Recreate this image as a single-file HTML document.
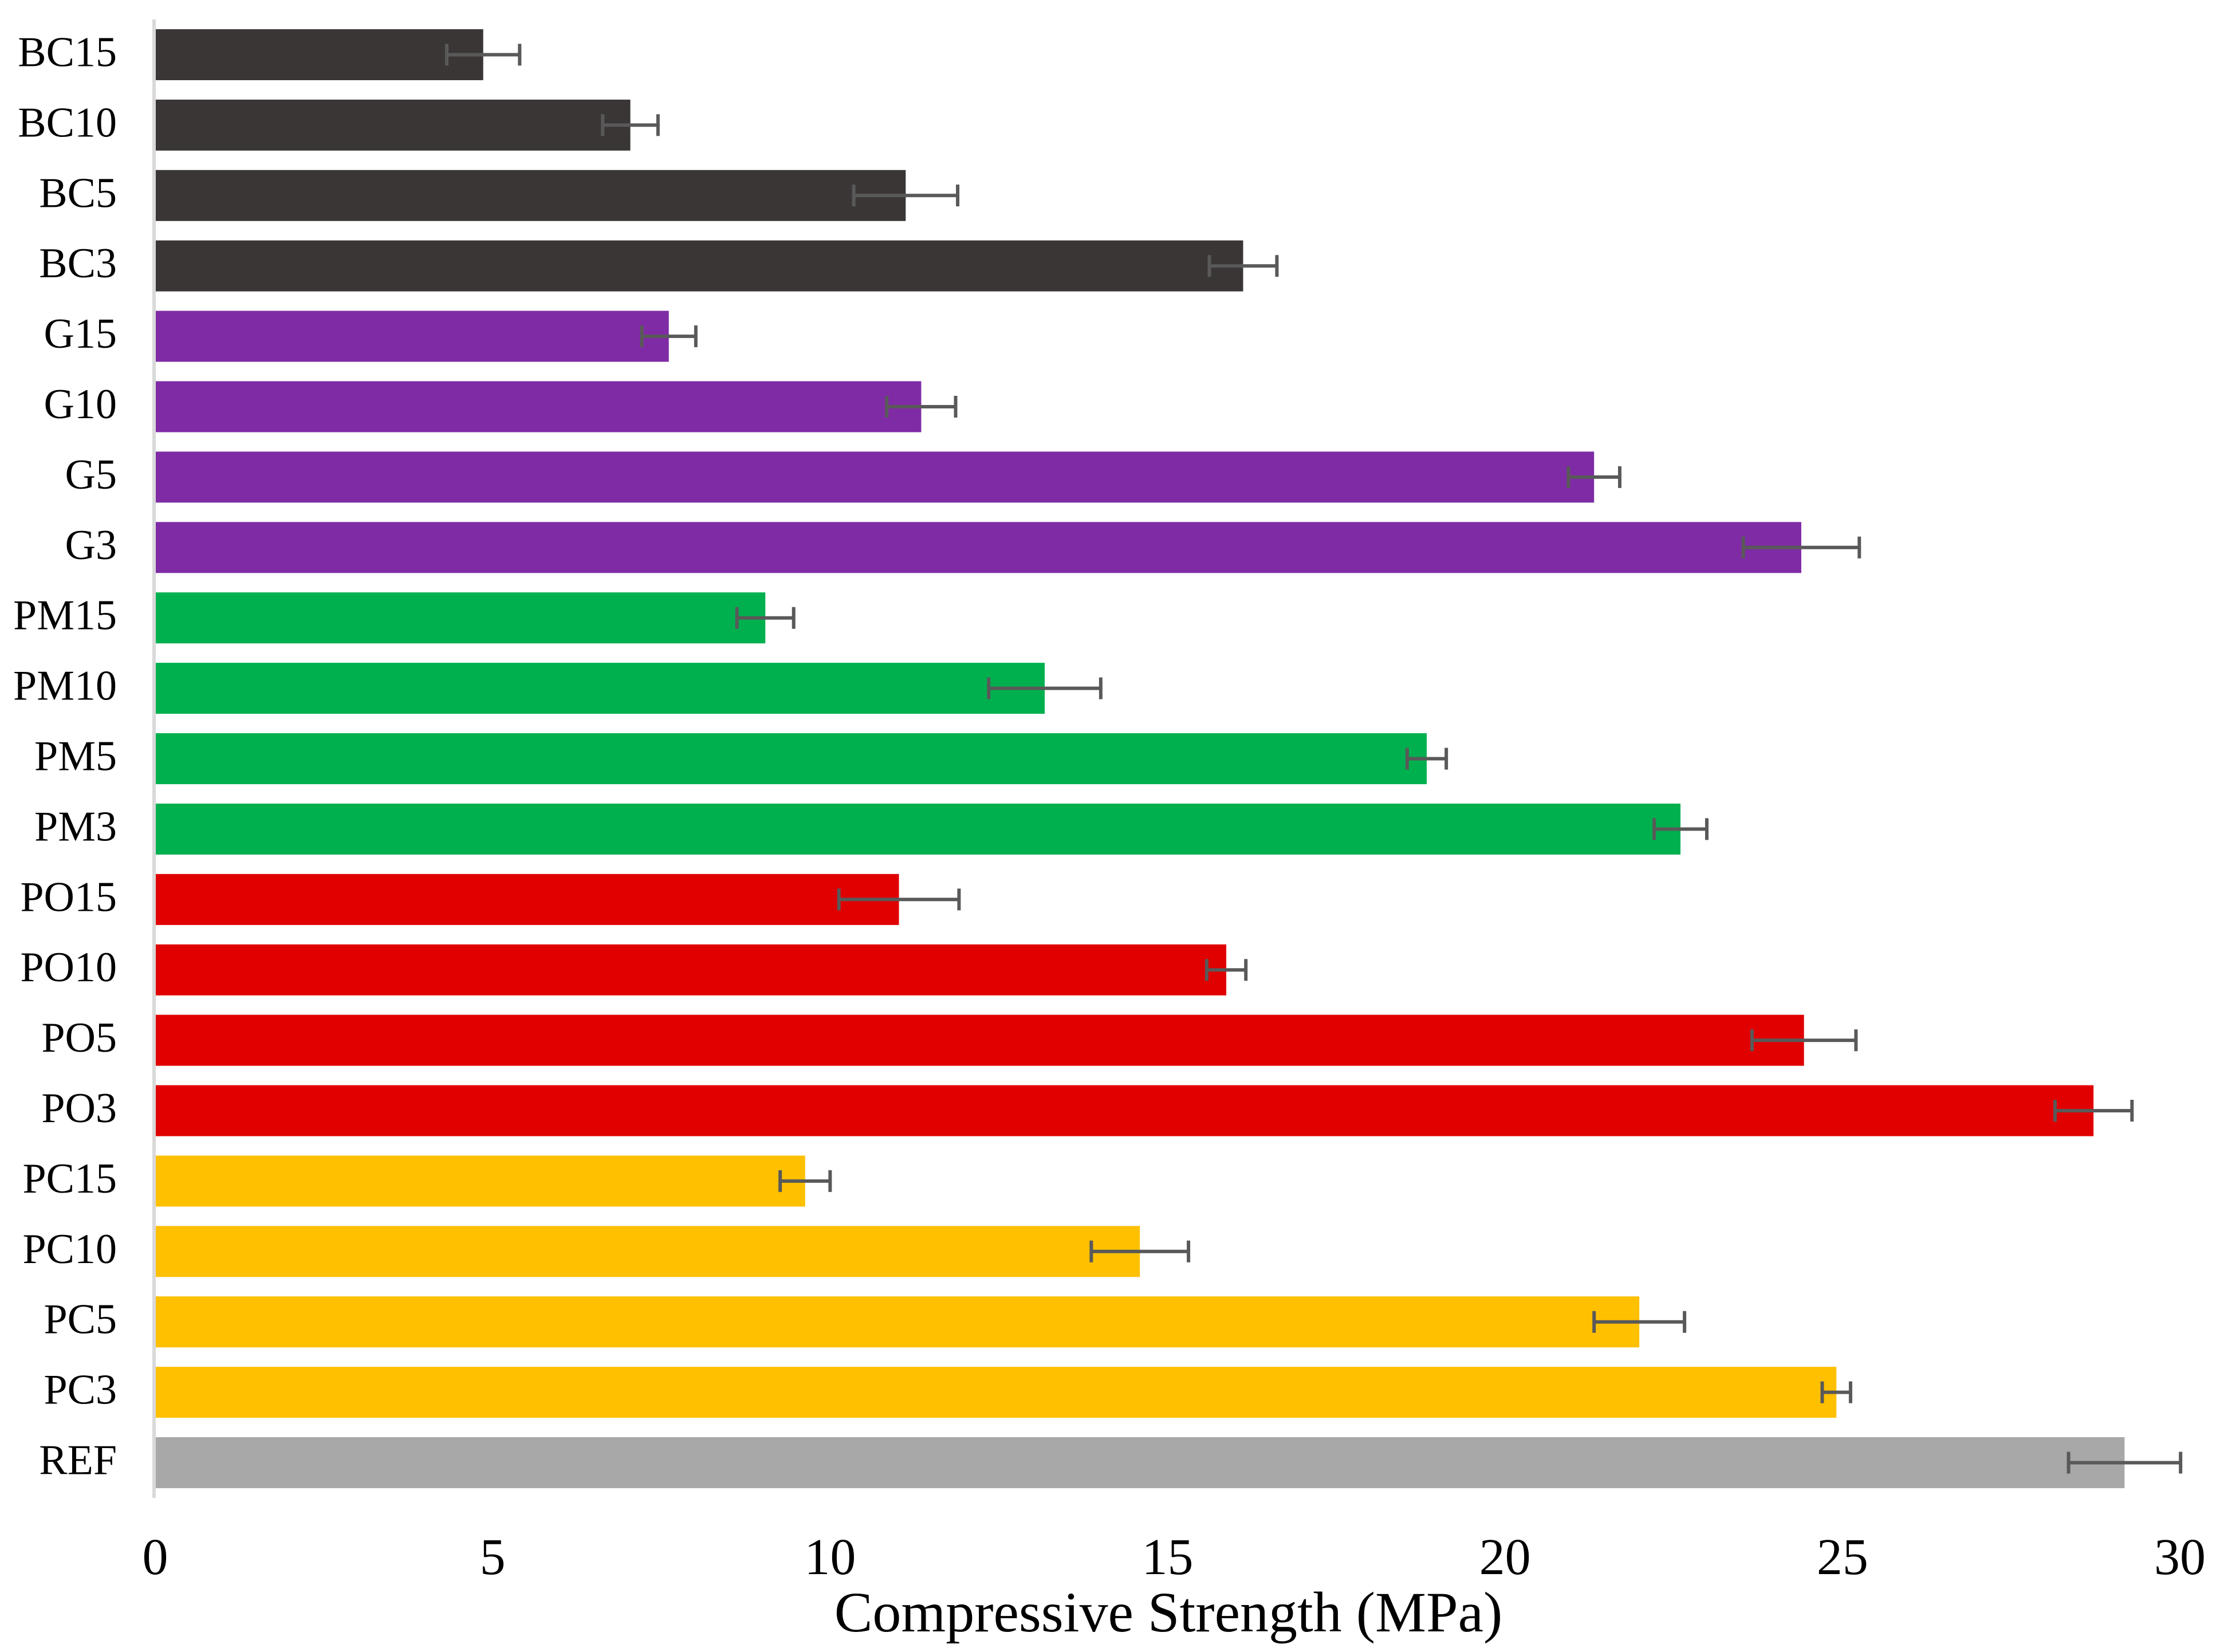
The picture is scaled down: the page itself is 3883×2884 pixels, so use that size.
<!DOCTYPE html>
<html><head><meta charset="utf-8"><style>html,body{margin:0;padding:0;background:#fff}svg{display:block}</style></head>
<body>
<svg id="chart" width="3883" height="2884" viewBox="0 0 3883 2884" xmlns="http://www.w3.org/2000/svg" font-family="Liberation Serif, serif">
<rect width="3883" height="2884" fill="#fff"/>
<g id="bars"></g>
<line x1="269" y1="34" x2="269" y2="2615" stroke="#d9d9d9" stroke-width="6"/>
<g id="ticks"></g>
<text x="2040" y="2848" font-size="100" text-anchor="middle">Compressive Strength (MPa)</text>
</svg>
<script>
const categories = ["BC15","BC10","BC5","BC3","G15","G10","G5","G3","PM15","PM10","PM5","PM3","PO15","PO10","PO5","PO3","PC15","PC10","PC5","PC3","REF"];
const values = [4.86,7.04,11.12,16.12,7.61,11.35,21.32,24.39,9.04,13.18,18.84,22.6,11.02,15.87,24.43,28.72,9.63,14.59,21.99,24.91,29.18];
const errors = [0.54,0.41,0.77,0.5,0.4,0.51,0.38,0.86,0.42,0.83,0.29,0.39,0.89,0.29,0.77,0.57,0.37,0.72,0.67,0.21,0.83];
const groupColors = ["#3a3636","#3a3636","#3a3636","#3a3636","#7f2ba5","#7f2ba5","#7f2ba5","#7f2ba5","#00b04f","#00b04f","#00b04f","#00b04f","#e00000","#e00000","#e00000","#e00000","#ffc000","#ffc000","#ffc000","#ffc000","#a8a8a8"];
const xTicks = [0,5,10,15,20,25,30];
const NS="http://www.w3.org/2000/svg";
const x0=271, x1=3806, xmax=30;
function xs(v){return x0+(v/xmax)*(x1-x0);}
const top0=51, step=122.9, bh=89;
function yb(i){return top0+i*step;}
const gb=document.getElementById('bars');
categories.forEach((c,i)=>{
  const r=document.createElementNS(NS,'rect');
  
  
  r.setAttribute('x',xs(0));r.setAttribute('y',yb(i));
  r.setAttribute('width',xs(values[i])-xs(0));r.setAttribute('height',bh);
  r.setAttribute('fill',groupColors[i]);gb.appendChild(r);
  const cy=yb(i)+bh/2;
  const g=document.createElementNS(NS,'g');
  
  
  g.setAttribute('stroke','#595959');g.setAttribute('stroke-width','6');
  const a=xs(values[i]-errors[i]), b=xs(values[i]+errors[i]);
  g.innerHTML=`<line x1="${a}" y1="${cy}" x2="${b}" y2="${cy}"/><line x1="${a}" y1="${cy-19}" x2="${a}" y2="${cy+19}"/><line x1="${b}" y1="${cy-19}" x2="${b}" y2="${cy+19}"/>`;
  gb.appendChild(g);
  const t=document.createElementNS(NS,'text');
  
  
  t.setAttribute('x',204);t.setAttribute('y',cy+20);
  t.setAttribute('font-size','74');t.setAttribute('text-anchor','end');
  t.textContent=c;gb.appendChild(t);
});
const gt=document.getElementById('ticks');
xTicks.forEach(v=>{
  const t=document.createElementNS(NS,'text');
  
  
  t.setAttribute('x',xs(v));t.setAttribute('y',2748);
  t.setAttribute('font-size','90');t.setAttribute('text-anchor','middle');
  t.textContent=v;gt.appendChild(t);
});
</script>
</body></html>
